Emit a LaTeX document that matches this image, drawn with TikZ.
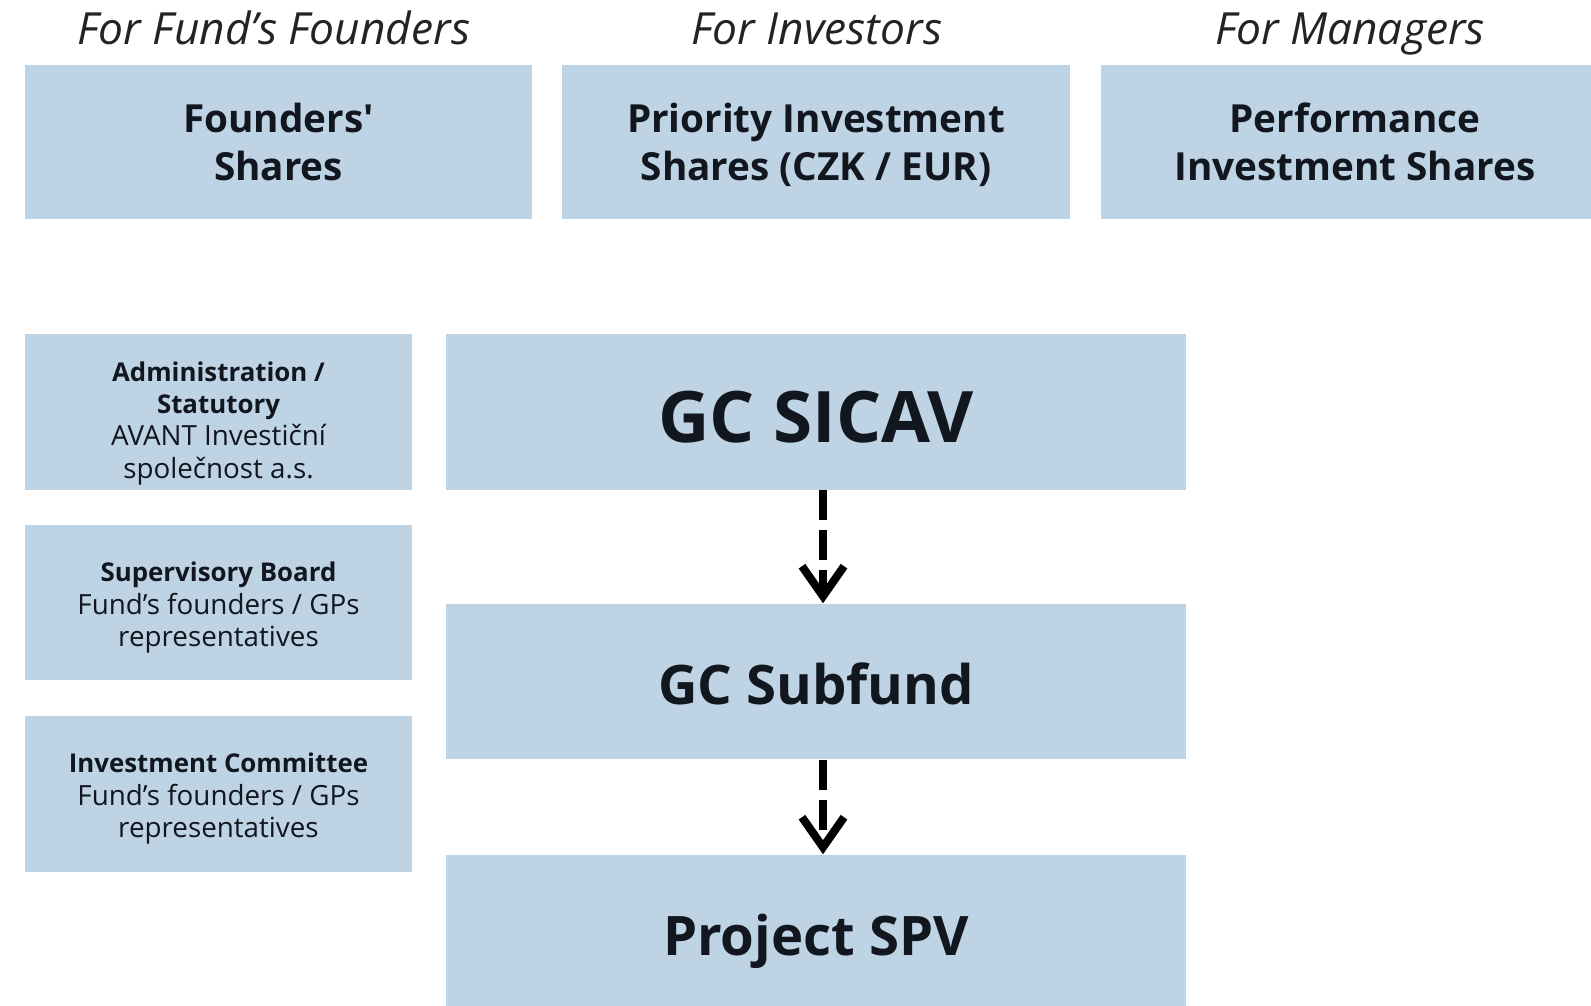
\documentclass[tikz,border=0pt]{standalone}
\usepackage{fontspec}
\setmainfont{Open Sans}
\usetikzlibrary{arrows.meta, positioning}
\definecolor{boxblue}{RGB}{190, 212, 229}
\definecolor{inkdark}{RGB}{18, 22, 30}
\definecolor{headgray}{RGB}{35, 35, 38}
\newcommand{\boardtitle}[1]{{\fontsize{7.35}{9.2}\selectfont\bfseries #1}}

\begin{document}
\begin{tikzpicture}[x=0.01cm, y=-0.01cm,
  headline/.style={font=\fontsize{12.6}{15}\selectfont\itshape, text=headgray, inner sep=0pt, anchor=base},
  sharebox/.style={fill=boxblue, minimum width=5.07cm, minimum height=1.54cm, inner sep=0pt, align=center, text=inkdark, font=\fontsize{11}{13.6}\selectfont\bfseries},
  orgbox/.style={fill=boxblue, minimum width=3.87cm, minimum height=1.555cm, inner sep=0pt, align=center, text=inkdark, font=\fontsize{7.9}{9.2}\selectfont},
  fundbox/.style={fill=boxblue, minimum width=7.40cm, minimum height=1.55cm, inner sep=0pt, text=inkdark, font=\fontsize{15.5}{18}\selectfont\bfseries,
    execute at begin node={\rule{0pt}{1.15em}}, execute at end node={\rule[-0.3em]{0pt}{0.3em}}},
  flowarrow/.style={line width=2.3pt, dash pattern=on 0.3cm off 0.1cm, -{Straight Barb[length=0.3cm, width=0.42cm, line width=2.3pt]}}]
  \clip (0,0) rectangle (1591,1005);

  % share classes
  \node[headline] (hfound) at (274, 44) {For Fund’s Founders};
  \node[headline] (hinv) at (817, 44) {For Investors};
  \node[headline] (hman) at (1350, 44) {For Managers};

  \node[sharebox] (founders) at (278.5, 142) {Founders\textquotesingle\\Shares};
  \node[sharebox] (priority) at (816, 142) {Priority Investment\\Shares \smash{(CZK / EUR)}};
  \node[sharebox] (perform) at (1355, 142) {Performance\\Investment Shares};

  % governance
  \node[orgbox] (admin) at (218.5, 412) {\rule{0pt}{12pt}\boardtitle{Administration /}\\\boardtitle{Statutory}\\AVANT Investiční\\společnost a.s.};
  \node[orgbox] (superv) at (218.5, 602.5) {\rule{0pt}{8.5pt}\boardtitle{Supervisory Board}\\Fund’s founders / GPs\\representatives};
  \node[orgbox] (invcom) at (218.5, 794) {\rule{0pt}{8.2pt}\boardtitle{Investment Committee}\\Fund’s founders / GPs\\representatives};

  % fund structure
  \node[fundbox, font=\fontsize{20.2}{23}\selectfont\bfseries] (sicav) at (816, 412) {GC SICAV};
  \node[fundbox] (subfund) at (816, 681.5) {GC Subfund};
  \node[fundbox] (spv) at (816, 932.5) {Project SPV};

  \draw[flowarrow] ([xshift=0.07cm]sicav.south) -- ([xshift=0.07cm]subfund.north);
  \draw[flowarrow] ([xshift=0.07cm]subfund.south) -- ([xshift=0.07cm]spv.north);
\end{tikzpicture}
\end{document}
